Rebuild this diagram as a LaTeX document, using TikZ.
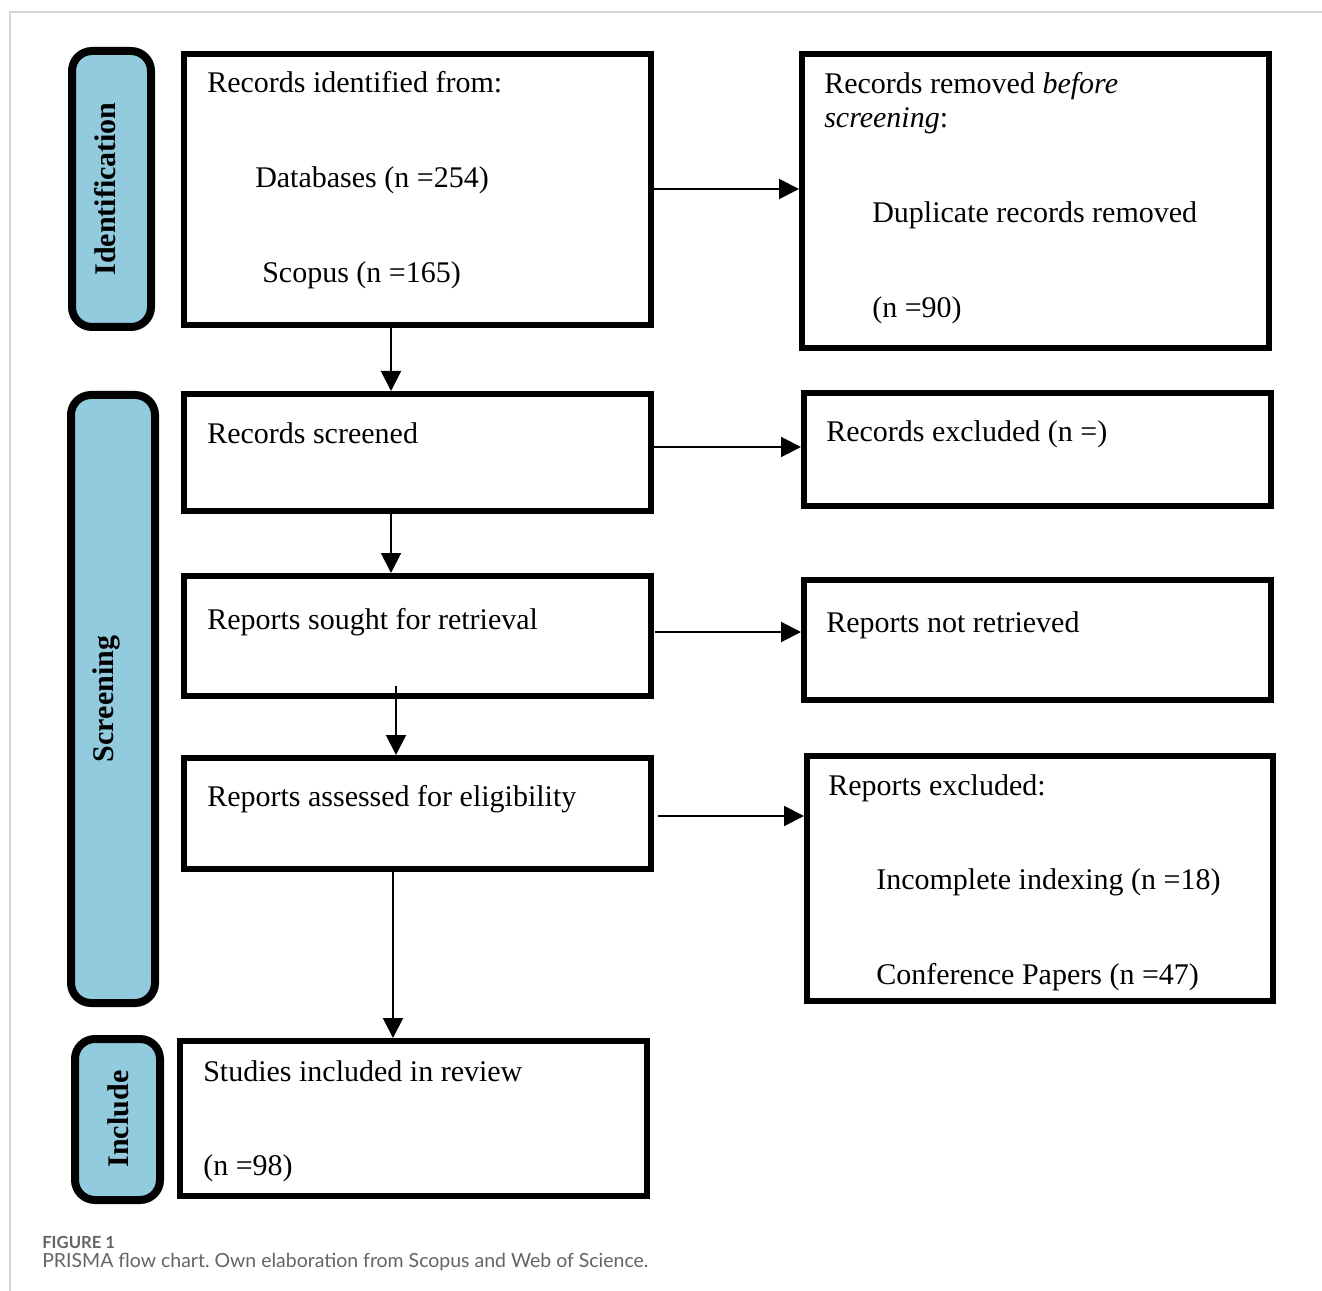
\documentclass[tikz,border=0pt]{standalone}
\usepackage{fontspec}
\setmainfont{Liberation Serif}
\newfontfamily\capfont{Lato}
\usetikzlibrary{fit,arrows.meta,calc}
\definecolor{sideblue}{RGB}{146,203,222}
\definecolor{framegray}{RGB}{215,215,215}
\definecolor{capgray}{RGB}{100,100,100}
\frenchspacing
\begin{document}
\begin{tikzpicture}[x=0.75pt,y=-0.75pt,
  box/.style={draw=black,line width=4.5pt,inner sep=0pt,fill=white},
  side/.style={draw=black,line width=6pt,inner sep=0pt,fill=sideblue,rounded corners=15pt},
  txt/.style={anchor=base west,inner sep=0pt,font=\fontsize{22.5}{27}\selectfont},
  sidetxt/.style={rotate=90,anchor=base,inner sep=0pt,font=\fontsize{22.5}{27}\selectfont\bfseries},
  arr/.style={line width=1.5pt,-{Triangle[length=15pt,width=15pt]}},
]
\useasboundingbox (0,0) rectangle (1322,1291);
\draw[framegray,line width=1.2pt] (10,1291) -- (10,12) -- (1322,12);

% side boxes
\node[side,fit={(72,51)(151,327)}] (s1) {};
\node[side,fit={(71,395)(155,1003)}] (s2) {};
\node[side,fit={(75,1039)(160,1200)}] (s3) {};
\node[sidetxt] (s1t) at (115,189) {Identification};
\node[sidetxt] (s2t) at (113,699) {Screening};
\node[sidetxt] (s3t) at (128,1119) {Include};

% main boxes
\node[box,fit={(184,54)(651,325)}] (b1) {};
\node[box,fit={(802,54)(1269,348)}] (r1) {};
\node[box,fit={(184,394)(651,511)}] (b2) {};
\node[box,fit={(804,393)(1271,506)}] (r2) {};
\node[box,fit={(184,576)(651,696)}] (b3) {};
\node[box,fit={(804,580)(1271,700)}] (r3) {};
\node[box,fit={(184,758)(651,869)}] (b4) {};
\node[box,fit={(807,756)(1273,1001)}] (r4) {};
\node[box,fit={(180,1041)(647,1196)}] (b5) {};

% texts
\node[txt] (t1a) at (207,93) {Records identified from:};
\node[txt] (t1b) at (255,188) {Databases (n =254)};
\node[txt] (t1c) at (262,283) {Scopus (n =165)};
\node[txt] (u1a) at (824,94) {Records removed \textit{before}};
\node[txt] (u1b) at (824,128) {\textit{screening}:};
\node[txt] (u1c) at (872,223) {Duplicate records removed};
\node[txt] (u1d) at (872,318) {(n =90)};
\node[txt] (t2) at (207,444) {Records screened};
\node[txt] (u2) at (826,441) {Records excluded (n =)};
\node[txt] (t3) at (207,629) {Reports sought for retrieval};
\node[txt] (u3) at (826,632) {Reports not retrieved};
\node[txt] (t4) at (207,806) {Reports assessed for eligibility};
\node[txt] (u4a) at (828,795) {Reports excluded:};
\node[txt] (u4b) at (876,889) {Incomplete indexing (n =18)};
\node[txt] (u4c) at (876,984) {Conference Papers (n =47)};
\node[txt] (t5a) at (203,1081) {Studies included in review};
\node[txt] (t5b) at (203,1175) {(n =98)};

% arrow start points
\coordinate (v1) at ($(b1.south)+(-26.5,0)$);
\coordinate (v2) at ($(b2.south)+(-26.5,0)$);
\coordinate (v3) at ($(b3.south)+(-21.5,-13)$);
\coordinate (v4) at ($(b4.south)+(-24.5,0)$);
\coordinate (h1) at ($(b1.east)+(0,-0.5)$);
\coordinate (h2) at ($(b2.east)+(0,-5.5)$);
\coordinate (h3) at ($(b3.east)+(1,-4)$);
\coordinate (h4) at ($(b4.east)+(4,2.5)$);

% vertical arrows
\draw[arr] (v1) -- (v1 |- b2.north);
\draw[arr] (v2) -- (v2 |- b3.north);
\draw[arr] (v3) -- (v3 |- b4.north);
\draw[arr] (v4) -- (v4 |- b5.north);

% horizontal arrows
\draw[arr] (h1) -- (h1 -| r1.west);
\draw[arr] (h2) -- (h2 -| r2.west);
\draw[arr] (h3) -- (h3 -| r3.west);
\draw[arr] (h4) -- (h4 -| r4.west);

% caption
\node[anchor=base west,inner sep=0pt,text=capgray,font=\capfont\bfseries\fontsize{12.5}{15}\selectfont] (capa) at (42,1248) {FIGURE 1};
\node[anchor=base west,inner sep=0pt,text=capgray,font=\capfont\fontsize{14.6}{18}\selectfont] (capb) at (42,1267) {PRISMA flow chart. Own elaboration from Scopus and Web of Science.};
\end{tikzpicture}
\end{document}
